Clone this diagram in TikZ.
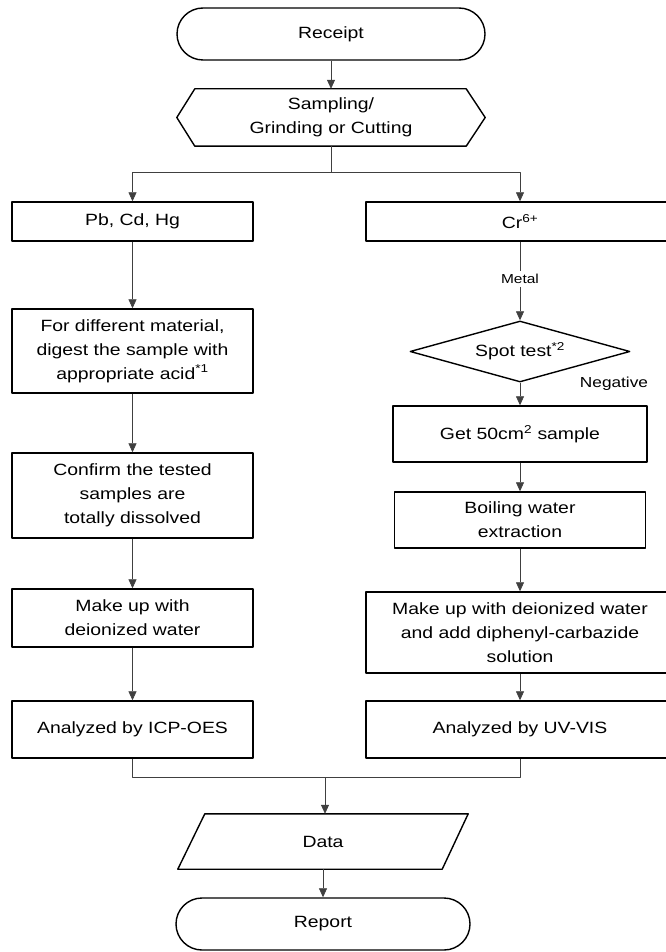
\documentclass[tikz,border=0pt]{standalone}
\usepackage{fontspec}
\setmainfont{Liberation Sans}[FakeStretch=1.19]
\usetikzlibrary{arrows.meta,shapes.geometric}
\begin{document}
\begin{tikzpicture}[x=1pt,y=-1pt,line join=round,>={Triangle[length=9pt,width=8pt]},font=\fontsize{16.3}{24}\selectfont,
	box/.style={draw,line width=1.4pt,inner sep=0pt,align=center,minimum width=241pt},
	wide/.style={box,minimum width=308pt},
	term/.style={box,rounded corners=26pt,minimum height=52pt},
	link/.style={->,line width=0.7pt,draw=black!75},
	small/.style={font=\fontsize{13}{15}\selectfont}]
	\def\xl{132.5} \def\xr{520} \def\xm{331}
	\useasboundingbox (0,0) rectangle (665,952);
	\node[term,minimum width=308pt] (receipt) at (\xm,34) {Receipt};
	\node[inner sep=0pt,align=center,minimum width=308pt,minimum height=57pt] (sampling) at (\xm,117.5) {Sampling/\\Grinding or Cutting};
	\draw[line width=1.4pt] (sampling.west)--([xshift=18]sampling.north west)--([xshift=-19]sampling.north east)--(sampling.east)--([xshift=-19]sampling.south east)--([xshift=18]sampling.south west)--cycle;
	\coordinate (split) at (\xm,172);
	% left column
	\node[box,minimum height=39pt] (pb) at (\xl,221.5) {Pb, Cd, Hg};
	\node[box,minimum height=84pt] (digest) at (\xl,351) {For different material,\\digest the sample with\\appropriate acid\textsuperscript{*1}};
	\node[box,minimum height=85pt] (confirm) at (\xl,495.5) {Confirm the tested\\samples are\\totally dissolved};
	\node[box,minimum height=58pt] (makeup) at (\xl,618) {Make up with\\deionized water};
	\node[box,minimum height=57pt] (icp) at (\xl,729.5) {Analyzed by ICP-OES};
	% right column
	\node[wide,minimum height=39pt] (cr) at (\xr,221.5) {Cr\textsuperscript{6+}};
	\node[small] (metal) at (\xr,279) {Metal};
	\node[draw,diamond,aspect=3.6,line width=1.4pt,inner sep=0pt,minimum width=220pt,minimum height=61pt] (spot) at (\xr,351.5) {Spot test\textsuperscript{*2}};
	\node[small,font=\fontsize{14.5}{17}\selectfont] (negative) at (614,384) {Negative};
	\node[box,minimum width=254pt,minimum height=56pt] (get) at (\xr,434) {Get 50cm\textsuperscript{2} sample};
	\node[box,minimum width=251pt,minimum height=56pt] (boil) at (\xr,520) {Boiling water\\extraction};
	\node[wide,minimum height=81pt] (mkright) at (\xr,632.5) {Make up with deionized water\\and add diphenyl-carbazide\\solution};
	\node[wide,minimum height=57pt] (uv) at (\xr,729.5) {Analyzed by UV-VIS};
	\coordinate (join) at (325,777);
	% output
	\node[inner sep=0pt,minimum width=290pt,minimum height=55pt] (data) at (323,841.5) {Data};
	\draw[line width=1.4pt] ([xshift=27]data.north west)--(data.north east)--([xshift=-26]data.south east)--(data.south west)--cycle;
	\node[term,minimum width=294pt] (report) at (323,924) {Report};
	% connectors
	\draw[link] (receipt)--(sampling);
	\draw[link] (sampling.south)--(split)-|(pb);
	\draw[link] (split)-|(cr);
	\draw[link] (pb)--(digest);
	\draw[link] (digest)--(confirm);
	\draw[link] (confirm)--(makeup);
	\draw[link] (makeup)--(icp);
	\draw[line width=0.7pt,draw=black!75] (cr)--(metal);
	\draw[link] (metal)--(spot);
	\draw[link] (spot)--(get);
	\draw[link] (get)--(boil);
	\draw[link] (boil)--(mkright);
	\draw[link] (mkright)--(uv);
	\draw[line width=0.7pt,draw=black!75] (icp)|-(join) (uv)|-(join);
	\draw[link] (join)--(join|-data.north);
	\draw[link] (data)--(report);
\end{tikzpicture}
\end{document}
